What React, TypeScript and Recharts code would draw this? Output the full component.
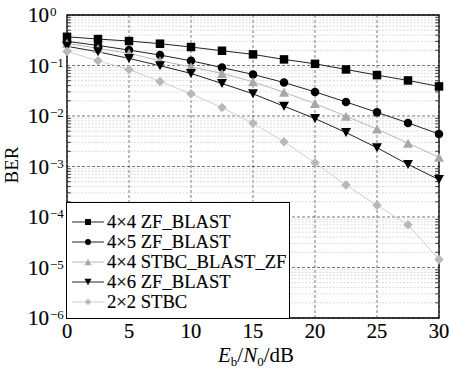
import React from 'react';
import { LineChart, Line, XAxis, YAxis, CartesianGrid, ReferenceLine, ReferenceArea } from 'recharts';

const snr = [0, 2.5, 5, 7.5, 10, 12.5, 15, 17.5, 20, 22.5, 25, 27.5, 30];
const zf44 = [0.37, 0.334, 0.305, 0.27, 0.232, 0.196, 0.166, 0.132, 0.108, 0.0835, 0.0645, 0.0506, 0.0385];
const zf45 = [0.3, 0.25, 0.202, 0.161, 0.124, 0.091, 0.0665, 0.046, 0.03, 0.019, 0.0118, 0.0073, 0.0044];
const stbcBlast = [0.275, 0.218, 0.174, 0.124, 0.094, 0.0697, 0.0477, 0.0294, 0.0176, 0.0099, 0.0055, 0.0029, 0.00152];
const zf46 = [0.24, 0.187, 0.138, 0.099, 0.0697, 0.044, 0.0275, 0.0156, 0.0089, 0.0047, 0.00235, 0.0011, 0.00055];
const stbc22 = [0.19, 0.124, 0.0836, 0.0483, 0.0275, 0.0147, 0.0072, 0.0031, 0.00118, 0.00043, 0.00017, 0.00007, 0.0000144];

const xTicks = [0, 5, 10, 15, 20, 25, 30];
const yTicks = [1e-6, 1e-5, 1e-4, 1e-3, 1e-2, 1e-1, 1];
const minorY: number[] = [];
for (let e = -6; e < 0; e++) for (let m = 2; m <= 9; m++) minorY.push(m * Math.pow(10, e));

const legendLabels = ['4×4 ZF_BLAST', '4×5 ZF_BLAST', '4×4 STBC_BLAST_ZF', '4×6 ZF_BLAST', '2×2 STBC'];

const data = snr.map((x, i) => ({ x, a: zf44[i], b: zf45[i], c: stbcBlast[i], d: zf46[i], e: stbc22[i] }));

const FONT = '"Liberation Serif", "DejaVu Serif", serif';

type Kind = 'square' | 'circle' | 'up' | 'down' | 'diamond';

function Marker({ kind, cx, cy, s, fill }: { kind: Kind; cx: number; cy: number; s: number; fill: string }) {
  if (kind === 'square') return <rect x={cx - s / 2} y={cy - s / 2} width={s} height={s} fill={fill} />;
  if (kind === 'circle') return <circle cx={cx} cy={cy} r={s / 2} fill={fill} />;
  if (kind === 'up') {
    const h = s * 0.9;
    return <polygon points={`${cx - s / 2},${cy + h / 2} ${cx + s / 2},${cy + h / 2} ${cx},${cy - h / 2}`} fill={fill} />;
  }
  if (kind === 'down') {
    const h = s * 0.9;
    return <polygon points={`${cx - s / 2},${cy - h / 2} ${cx + s / 2},${cy - h / 2} ${cx},${cy + h / 2}`} fill={fill} />;
  }
  return <polygon points={`${cx},${cy - s / 2} ${cx + s / 2},${cy} ${cx},${cy + s / 2} ${cx - s / 2},${cy}`} fill={fill} />;
}

const series: { key: string; kind: Kind; line: string; fill: string; size: number }[] = [
  { key: 'a', kind: 'square', line: '#222', fill: '#000', size: 8.5 },
  { key: 'b', kind: 'circle', line: '#222', fill: '#000', size: 8.5 },
  { key: 'c', kind: 'up', line: '#b8b8b8', fill: '#a8a8a8', size: 10 },
  { key: 'd', kind: 'down', line: '#222', fill: '#000', size: 10 },
  { key: 'e', kind: 'diamond', line: '#cfcfcf', fill: '#b8b8b8', size: 9.5 },
];

const YTick = (props: any) => {
  const { y, payload } = props;
  const e = Math.round(Math.log10(payload.value));
  return (
    <g>
      <text x={28} y={y + 7.3} fontSize={21} fontFamily={FONT} fill="#000" stroke="#000" strokeWidth={0.2}>10</text>
      <text x={50} y={y + 1} fontSize={13} fontFamily={FONT} fill="#000">{e === 0 ? '0' : '−' + -e}</text>
    </g>
  );
};

const XTick = (props: any) => {
  const { x, y, payload } = props;
  return (
    <text x={x} y={y + 19.5} textAnchor="middle" fontSize={20.5} fontFamily={FONT} fill="#000" stroke="#000" strokeWidth={0.2}>
      {payload.value}
    </text>
  );
};

export default function App() {
  return (
    <div style={{ position: 'relative', width: 449, height: 370, overflow: 'hidden', background: '#fff' }}>
      <style>{`body{margin:0;overflow:hidden;}`}</style>
      <LineChart width={449} height={370} data={data} margin={{ top: 15, right: 10, left: 0, bottom: 0 }}>
        {minorY.map((v) => (
          <ReferenceLine key={'m' + v} y={v} stroke="#d0d0d0" strokeDasharray="2 1.5" strokeWidth={0.8} />
        ))}
        <CartesianGrid stroke="#555" strokeDasharray="3 2" strokeWidth={0.8} />
        <XAxis
          dataKey="x"
          type="number"
          domain={[0, 30]}
          ticks={xTicks}
          tick={<XTick />}
          tickLine={false}
          tickSize={0}
          tickMargin={0}
          axisLine={false}
          height={52}
          interval={0}
          label={{
            content: () => (
              <text x={256} y={362} textAnchor="middle" fontSize={21} fontFamily={FONT} fill="#000">
                <tspan fontStyle="italic">E</tspan>
                <tspan fontSize={13} dy={4}>b</tspan>
                <tspan dy={-4}>/</tspan>
                <tspan fontStyle="italic">N</tspan>
                <tspan fontSize={13} dy={4}>0</tspan>
                <tspan dy={-4}>/dB</tspan>
              </text>
            ),
          }}
        />
        <YAxis
          type="number"
          scale="log"
          domain={[1e-6, 1]}
          ticks={yTicks}
          allowDataOverflow
          tick={<YTick />}
          tickLine={false}
          axisLine={false}
          width={67}
          interval={0}
          label={{
            content: () => (
              <text x={18} y={165} transform="rotate(-90 18 165)" textAnchor="middle" fontSize={19} fontFamily={FONT} fill="#000">
                BER
              </text>
            ),
          }}
        />
        {minorY.map((v) => (
          <ReferenceLine key={'tl' + v} segment={[{ x: 0, y: v }, { x: 0.3, y: v }]} stroke="#000" strokeWidth={0.8} />
        ))}
        {minorY.map((v) => (
          <ReferenceLine key={'tr' + v} segment={[{ x: 29.7, y: v }, { x: 30, y: v }]} stroke="#000" strokeWidth={0.8} />
        ))}
        {series.map((s) => (
          <Line
            key={s.key}
            dataKey={s.key}
            stroke={s.line}
            strokeWidth={1}
            isAnimationActive={false}
            dot={(p: any) => <Marker key={s.key + p.index} kind={s.kind} cx={p.cx} cy={p.cy} s={s.size} fill={s.fill} />}
            activeDot={false}
          />
        ))}
        <ReferenceArea x1={0} x2={30} y1={1e-6} y2={1} fill="none" stroke="#000" strokeWidth={1.3} ifOverflow="visible" />
      </LineChart>
      <svg style={{ position: 'absolute', left: 66, top: 202 }} width={224} height={117}>
        <rect x={0.5} y={0.5} width={223} height={116} fill="#fff" stroke="#000" strokeWidth={1} />
        {series.map((s, i) => {
          const cy = 20 + i * 20;
          return (
            <g key={s.key}>
              <line x1={6} x2={38} y1={cy} y2={cy} stroke={s.line} strokeWidth={1} />
              <Marker kind={s.kind} cx={22} cy={cy} s={s.size * 0.7} fill={s.fill} />
              <text x={41} y={cy + 6} fontSize={18.6} fontFamily={FONT} fill="#000" stroke="#000" strokeWidth={0.15}>
                {legendLabels[i]}
              </text>
            </g>
          );
        })}
      </svg>
    </div>
  );
}
